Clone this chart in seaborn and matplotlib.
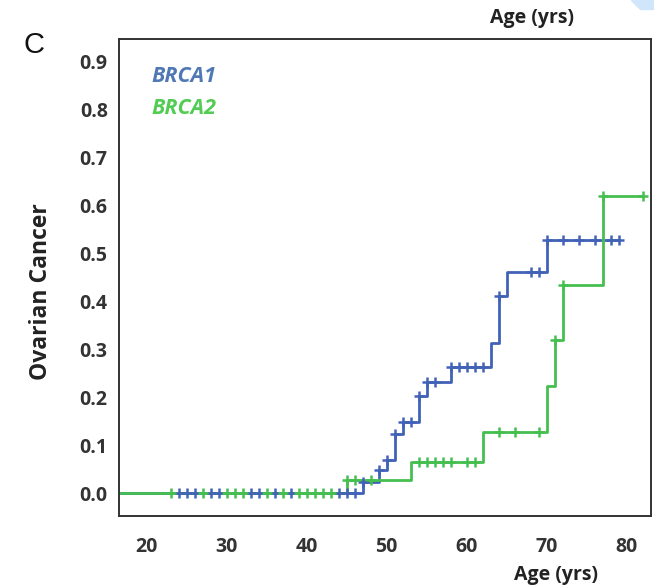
import matplotlib
matplotlib.use('Agg')
import matplotlib.pyplot as plt
from matplotlib.patches import Polygon
import seaborn as sns
import numpy as np
import pandas as pd

# Kaplan-Meier style cumulative incidence of ovarian cancer, BRCA1 vs BRCA2

# ### DONNEES
brca1_age = [0, 47, 49, 50, 51, 52, 54, 55, 58, 63, 64, 65, 70, 79]
brca1_cum = [0, 0.024, 0.048, 0.070, 0.124, 0.148, 0.204, 0.233, 0.264,
             0.314, 0.411, 0.462, 0.528, 0.528]
brca1_censor = [24, 25, 26, 28, 29, 33, 34, 36, 38, 44, 45, 46, 47, 49, 50,
                51, 52, 53, 54, 55, 56, 58, 59, 60, 61, 62, 64, 68, 69, 70,
                72, 74, 76, 78, 79]

brca2_age = [0, 45, 53, 62, 70, 71, 72, 77, 82]
brca2_cum = [0, 0.029, 0.066, 0.128, 0.224, 0.321, 0.435, 0.621, 0.621]
brca2_censor = [23, 27, 30, 31, 32, 35, 37, 39, 40, 41, 42, 43, 45, 46, 48,
                54, 55, 56, 57, 58, 60, 61, 64, 66, 69, 71, 72, 77, 82]

x_ticks = [20, 30, 40, 50, 60, 70, 80]
y_ticks = [0.0, 0.1, 0.2, 0.3, 0.4, 0.5, 0.6, 0.7, 0.8, 0.9]

couleurs = {'BRCA1': '#4262b8', 'BRCA2': '#45bf50'}
couleurs_texte = {'BRCA1': '#4f78b4', 'BRCA2': '#52cc52'}

sns.set_style('white')
plt.rcParams['font.family'] = ['Open Sans', 'DejaVu Sans']


def step_value(ages, cum, t):
    # valeur de la courbe en escalier au temps t
    idx = np.searchsorted(ages, t, side='right') - 1
    return np.asarray(cum)[idx]


fig = plt.figure(figsize=(6.54, 5.85), dpi=100)
ax = fig.add_axes([0.1827, 0.1171, 0.8122, 0.8166])

for nom, ages, cum, cens in [('BRCA1', brca1_age, brca1_cum, brca1_censor),
                             ('BRCA2', brca2_age, brca2_cum, brca2_censor)]:
    df = pd.DataFrame({'age': ages, 'cum': cum})
    sns.lineplot(data=df, x='age', y='cum', ax=ax, drawstyle='steps-post',
                 color=couleurs[nom], linewidth=2.0, sort=False,
                 estimator=None)
    dc = pd.DataFrame({'age': cens,
                       'cum': step_value(ages, cum, np.array(cens))})
    sns.scatterplot(data=dc, x='age', y='cum', ax=ax, marker='+',
                    color=couleurs[nom], s=50, linewidth=1.8, zorder=3)

ax.set_xlim(16.6, 83.0)
ax.set_ylim(-0.048, 0.948)
ax.set_xticks(x_ticks)
ax.set_yticks(y_ticks)
ax.set_yticklabels([f'{v:.1f}' for v in y_ticks])

for s in ax.spines.values():
    s.set_color('#333333')
    s.set_linewidth(1.4)
ax.tick_params(axis='both', direction='out', length=7, width=1.2,
               color='#333333', labelsize=14, labelcolor='#333333')
ax.tick_params(axis='x', pad=8)
ax.tick_params(axis='y', pad=1.5)
for lab in ax.get_xticklabels() + ax.get_yticklabels():
    lab.set_fontweight('bold')

ax.set_xlabel('Age (yrs)', fontsize=14, fontweight='bold', color='#222222')
ax.xaxis.set_label_coords(0.822, -0.122)
ax.xaxis.label.set_va('center')
ax.set_ylabel('Ovarian Cancer', fontsize=16.5, fontweight='bold',
              color='#222222')
ax.yaxis.set_label_coords(-0.148, 0.47)
ax.yaxis.label.set_va('center')

ax.text(0.06, 0.922, 'BRCA1', transform=ax.transAxes, ha='left', va='center',
        fontsize=15.5, fontweight='bold', fontstyle='italic',
        color=couleurs_texte['BRCA1'])
ax.text(0.06, 0.855, 'BRCA2', transform=ax.transAxes, ha='left', va='center',
        fontsize=15.5, fontweight='bold', fontstyle='italic',
        color=couleurs_texte['BRCA2'])

fig.text(0.813, 0.969, 'Age (yrs)', ha='center', va='center', fontsize=14,
         fontweight='bold', color='#222222')
fig.text(0.052, 0.923, 'C', ha='center', va='center', fontsize=21,
         family='Liberation Sans', color='#111111')

# petit bout bleu clair en haut a droite
fig.patches.append(Polygon([[0.965, 1.0], [1.0, 1.0], [1.0, 0.985],
                            [0.978, 0.985]], closed=True,
                           transform=fig.transFigure, color='#cfe6fb',
                           zorder=0))

fig.savefig('out.png', dpi=100)
